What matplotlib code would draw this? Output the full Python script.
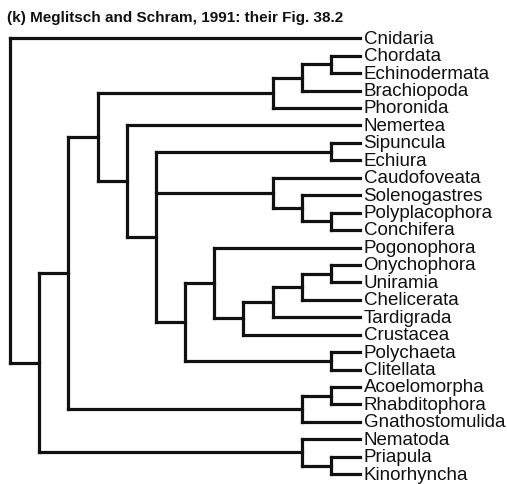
import matplotlib
matplotlib.use("Agg")
import matplotlib.pyplot as plt

plt.rcParams['font.family'] = ['Liberation Sans', 'DejaVu Sans']

title = "(k) Meglitsch and Schram, 1991: their Fig. 38.2"

taxa = ["Cnidaria", "Chordata", "Echinodermata", "Brachiopoda", "Phoronida",
        "Nemertea", "Sipuncula", "Echiura", "Caudofoveata", "Solenogastres",
        "Polyplacophora", "Conchifera", "Pogonophora", "Onychophora",
        "Uniramia", "Chelicerata", "Tardigrada", "Crustacea", "Polychaeta",
        "Clitellata", "Acoelomorpha", "Rhabditophora", "Gnathostomulida",
        "Nematoda", "Priapula", "Kinorhyncha"]
tip_level = 12

# internal nodes: name -> (level, children)
node_names = ["root", "n1", "n2", "n3", "deut", "deut2", "deut3", "n4", "n5",
              "sip", "moll", "moll2", "moll3", "n6", "n7", "n8", "n9", "n10",
              "ony", "ann", "acoel", "acoel2", "nema", "nema2"]
node_levels = [0, 1, 2, 3, 9, 10, 11, 4, 5,
               11, 9, 10, 11, 6, 7, 8, 9, 10,
               11, 11, 10, 11, 10, 11]
node_children = [["Cnidaria", "n1"], ["n2", "nema"], ["n3", "acoel"],
                 ["deut", "n4"], ["deut2", "Phoronida"],
                 ["deut3", "Brachiopoda"], ["Chordata", "Echinodermata"],
                 ["Nemertea", "n5"], ["sip", "moll", "n6"],
                 ["Sipuncula", "Echiura"], ["Caudofoveata", "moll2"],
                 ["Solenogastres", "moll3"], ["Polyplacophora", "Conchifera"],
                 ["n7", "ann"], ["Pogonophora", "n8"], ["n9", "Crustacea"],
                 ["n10", "Tardigrada"], ["ony", "Chelicerata"],
                 ["Onychophora", "Uniramia"], ["Polychaeta", "Clitellata"],
                 ["acoel2", "Gnathostomulida"], ["Acoelomorpha", "Rhabditophora"],
                 ["Nematoda", "nema2"], ["Priapula", "Kinorhyncha"]]

fig = plt.figure(figsize=(5.07, 4.84), dpi=100)
ax = fig.add_axes([0, 0, 1, 1])
lw = 2.3
col = '#111111'

pos = {}


def place(name):
    if name in pos:
        return pos[name]
    if name in taxa:
        pos[name] = (tip_level, taxa.index(name))
        return pos[name]
    i = node_names.index(name)
    lev = node_levels[i]
    ys = []
    for c in node_children[i]:
        cx, cy = place(c)
        ax.plot([lev, cx], [cy, cy], color=col, lw=lw, solid_capstyle='projecting')
        ys.append(cy)
    ax.plot([lev, lev], [min(ys), max(ys)], color=col, lw=lw, solid_capstyle='projecting')
    pos[name] = (lev, (min(ys) + max(ys)) / 2)
    return pos[name]


place("root")

for i, t in enumerate(taxa):
    ax.text(tip_level + 0.12, i + 0.05, t, fontsize=13.5, va='center',
            ha='left', color=col)

ax.text(0.014, 0.977, title, transform=ax.transAxes, fontsize=11.0,
        fontweight='bold', va='top', ha='left', color=col)

ax.set_xlim(-0.343, 17.04)
ax.set_ylim(25.56, -2.196)
ax.axis('off')
fig.savefig("out.png", dpi=100)
